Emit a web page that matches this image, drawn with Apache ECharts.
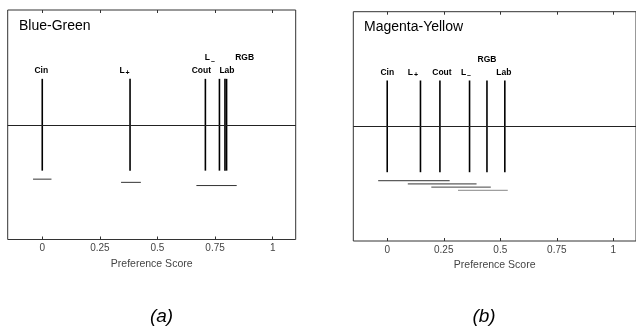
<!DOCTYPE html>
<html>
<head>
<meta charset="utf-8">
<script src="https://cdn.jsdelivr.net/npm/echarts@6/dist/echarts.min.js"></script>
<style>
html,body{margin:0;padding:0;background:#fff;}
#chart{width:636px;height:328px;}
</style>
</head>
<body>
<div id="chart"></div>
<script>
// ---- data ----
const panelTitles = ['Blue-Green', 'Magenta-Yellow'];
const captions = ['(a)', '(b)'];
const xTicks = [0, 0.25, 0.5, 0.75, 1];
const axisName = 'Preference Score';

const bgNames = ['Cin', 'L+', 'Cout', 'L-', 'Lab', 'RGB'];
const bgScores = [0, 0.381, 0.708, 0.769, 0.793, 0.800];
const bgGroups = [[-0.04, 0.04], [0.342, 0.428], [0.669, 0.844]];

const myNames = ['Cin', 'L+', 'Cout', 'L-', 'RGB', 'Lab'];
const myScores = [0, 0.147, 0.233, 0.364, 0.441, 0.520];
const myGroups = [[-0.04, 0.276], [0.091, 0.395], [0.195, 0.458], [0.313, 0.533]];

// ---- layout / style (not data) ----
const FONT = '"Liberation Sans", Arial, Helvetica, sans-serif';
const labelLayout = [
  { 'Cin': [-1, 0], 'L+': [-6, 0], 'Cout': [-4, 0], 'L-': [-10, 1], 'Lab': [2, 0], 'RGB': [18, 1] },
  { 'Cin': [0, 0], 'L+': [-8, 0], 'Cout': [2, 0], 'L-': [-4, 0], 'RGB': [0, 1], 'Lab': [-1, 0] }
];
const groupColors = [['#333', '#333', '#333'], ['#333', '#333', '#444', '#888']];
const grids = [
  { left: 7.7, top: 10, width: 288, height: 229.5 },
  { left: 353.3, top: 11.7, width: 288.4, height: 229.3 }
];

function labelElements(name, x, y) {
  const bold = 'bold 8.5px ' + FONT;
  if (name === 'L+' || name === 'L-') {
    const sub = name === 'L+' ? '+' : '\u2013';
    return [
      { type: 'text', x: x - 2, y: y, style: { text: 'L', font: bold, fill: '#000', align: 'center', verticalAlign: 'middle' } },
      { type: 'text', x: x + 3.5, y: y + (name === 'L+' ? 2.5 : 3), style: { text: sub, font: 'bold 7px ' + FONT, fill: '#000', align: 'center', verticalAlign: 'middle' } }
    ];
  }
  return [{ type: 'text', x: x, y: y, style: { text: name, font: bold, fill: '#000', align: 'center', verticalAlign: 'middle' } }];
}

function markRenderer(names, layout) {
  return function (params, api) {
    const v = api.value(0);
    const top = api.coord([v, 0.7]);
    const bot = api.coord([v, 0.3]);
    const name = names[params.dataIndex];
    const off = layout[name] || [0, 0];
    const ly = top[1] - (off[1] ? 21 : 8);
    return {
      type: 'group',
      children: [
        { type: 'line', shape: { x1: top[0], y1: top[1], x2: bot[0], y2: bot[1] }, style: { stroke: '#000', lineWidth: 1.6 } }
      ].concat(labelElements(name, top[0] + off[0], ly))
    };
  };
}

function groupRenderer(colors) {
  return function (params, api) {
    const a = api.coord([api.value(0), 0.3]);
    const b = api.coord([api.value(1), 0.3]);
    const y = a[1] + 8.5 + params.dataIndex * 3.2;
    return { type: 'line', shape: { x1: a[0], y1: y, x2: b[0], y2: y }, style: { stroke: colors[params.dataIndex], lineWidth: 1 } };
  };
}

const chart = echarts.init(document.getElementById('chart'), null, { renderer: 'canvas' });

const gridOpts = grids.map(g => Object.assign({ show: true, borderColor: '#333', borderWidth: 1, backgroundColor: 'transparent' }, g));
const xAxes = [];
const yAxes = [];
[0, 1].forEach(i => {
  xAxes.push({
    gridIndex: i, type: 'value', min: -0.15, max: 1.1, position: 'bottom',
    axisLine: { show: false },
    axisTick: { show: true, inside: true, length: 3, lineStyle: { color: '#333' }, customValues: xTicks },
    axisLabel: { customValues: xTicks, color: '#444', fontSize: 10, fontFamily: FONT, margin: 4 },
    splitLine: { show: false },
    name: axisName, nameLocation: 'middle', nameGap: 18,
    nameTextStyle: { color: '#444', fontSize: 10.5, fontFamily: FONT }
  });
  xAxes.push({
    gridIndex: i, type: 'value', min: -0.15, max: 1.1, position: 'top',
    axisLine: { show: false },
    axisTick: { show: true, inside: true, length: 3, lineStyle: { color: '#333' }, customValues: xTicks },
    axisLabel: { show: false },
    splitLine: { show: false }
  });
  yAxes.push({ gridIndex: i, type: 'value', min: 0, max: 1, show: false });
});

const panels = [
  { names: bgNames, scores: bgScores, groups: bgGroups },
  { names: myNames, scores: myScores, groups: myGroups }
];
const series = [];
panels.forEach((p, i) => {
  series.push({
    type: 'line', xAxisIndex: i * 2, yAxisIndex: i, data: [], silent: true,
    markLine: { silent: true, symbol: ['none', 'none'], label: { show: false },
      lineStyle: { color: '#222', width: 1, type: 'solid' }, data: [{ yAxis: 0.5 }], animation: false }
  });
  series.push({
    type: 'custom', xAxisIndex: i * 2, yAxisIndex: i, silent: true, clip: false,
    renderItem: markRenderer(p.names, labelLayout[i]),
    data: p.scores.map(s => [s])
  });
  series.push({
    type: 'custom', xAxisIndex: i * 2, yAxisIndex: i, silent: true, clip: false,
    renderItem: groupRenderer(groupColors[i]),
    data: p.groups.map(g => [g[0], g[1]])
  });
});

const graphic = [
  { type: 'text', left: 19, top: 19, style: { text: panelTitles[0], font: '14px ' + FONT, fill: '#000' } },
  { type: 'text', left: 364, top: 20, style: { text: panelTitles[1], font: '14px ' + FONT, fill: '#000' } },
  { type: 'text', x: 161.5, y: 317, style: { text: captions[0], font: 'italic 19px ' + FONT, fill: '#000', align: 'center', verticalAlign: 'middle' } },
  { type: 'text', x: 484, y: 317, style: { text: captions[1], font: 'italic 19px ' + FONT, fill: '#000', align: 'center', verticalAlign: 'middle' } }
];

chart.setOption({
  animation: false,
  grid: gridOpts,
  xAxis: xAxes,
  yAxis: yAxes,
  series: series,
  graphic: graphic
});
</script>
</body>
</html>
